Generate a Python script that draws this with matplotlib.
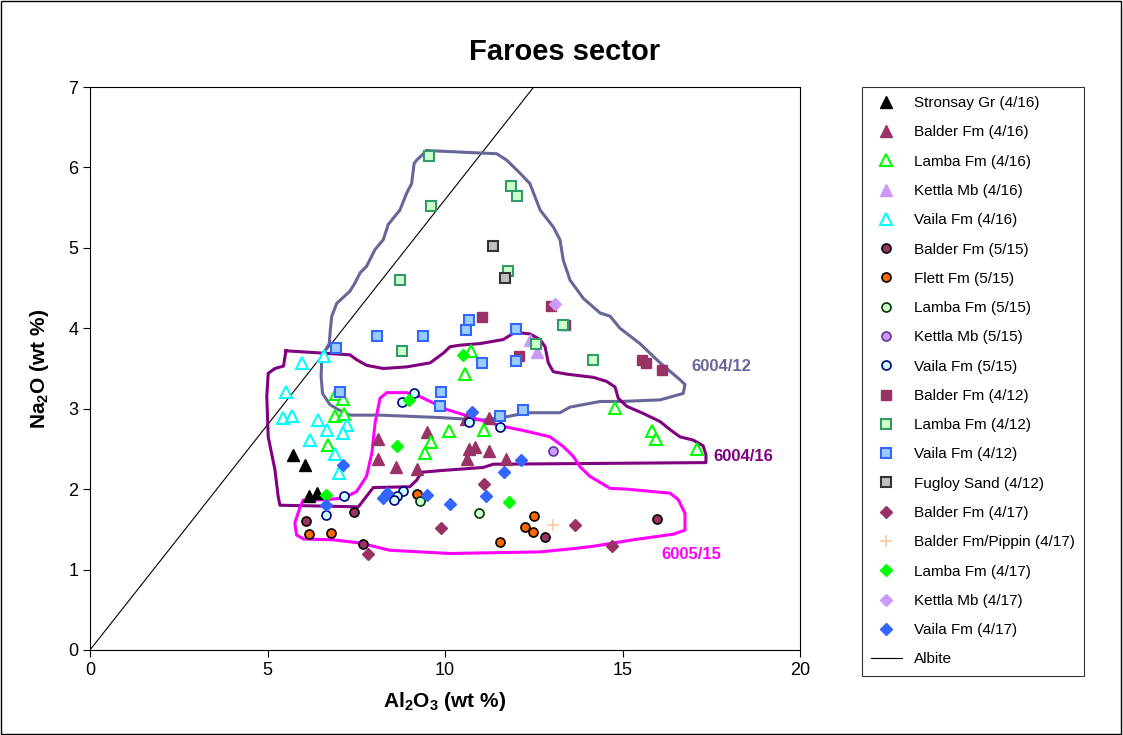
import matplotlib
matplotlib.use("Agg")
import matplotlib.pyplot as plt
from matplotlib.patches import Rectangle

plt.rcParams["font.family"] = ["Liberation Sans", "DejaVu Sans"]
plt.rcParams["mathtext.fontset"] = "custom"
plt.rcParams["mathtext.rm"] = "Liberation Sans:bold"
plt.rcParams["mathtext.default"] = "rm"

# Al2O3 (x) / Na2O (y) values, wt %
stronsay_416_x = [5.72, 6.07, 6.16, 6.40]
stronsay_416_y = [2.42, 2.30, 1.92, 1.95]

balder_416_x = [8.12, 8.10, 8.63, 9.22, 9.48, 10.60, 10.69, 10.85, 10.63, 11.24, 11.25, 11.71]
balder_416_y = [2.62, 2.38, 2.28, 2.25, 2.71, 2.87, 2.50, 2.52, 2.38, 2.47, 2.88, 2.37]

lamba_416_x = [6.93, 7.12, 6.90, 7.16, 6.71, 10.10, 9.60, 9.45, 10.72, 10.55, 11.10, 14.78, 15.84, 15.93, 17.09]
lamba_416_y = [3.18, 3.12, 2.91, 2.94, 2.55, 2.72, 2.58, 2.45, 3.72, 3.43, 2.74, 3.01, 2.72, 2.62, 2.50]

kettla_416_x = [12.39, 12.58]
kettla_416_y = [3.86, 3.71]

vaila_416_x = [5.98, 6.59, 5.51, 5.45, 5.68, 6.41, 6.67, 6.20, 7.23, 7.12, 6.90, 7.02]
vaila_416_y = [3.57, 3.66, 3.21, 2.89, 2.91, 2.86, 2.73, 2.61, 2.80, 2.70, 2.44, 2.20]

balder_515_x = [6.08, 7.44, 7.70, 12.82, 15.98]
balder_515_y = [1.60, 1.71, 1.32, 1.41, 1.63]

flett_515_x = [6.17, 6.78, 9.20, 12.52, 12.26, 12.48, 11.56]
flett_515_y = [1.44, 1.46, 1.94, 1.67, 1.53, 1.47, 1.34]

lamba_515_x = [9.30, 10.96]
lamba_515_y = [1.85, 1.70]

kettla_515_x = [13.04]
kettla_515_y = [2.47]

vaila_515_x = [9.14, 8.78, 10.69, 11.55, 7.16, 8.83, 8.66, 8.56, 6.65]
vaila_515_y = [3.19, 3.08, 2.83, 2.77, 1.92, 1.98, 1.92, 1.86, 1.68]

balder_412_x = [11.03, 12.08, 12.98, 13.38, 15.54, 15.65, 16.12]
balder_412_y = [4.14, 3.65, 4.28, 4.04, 3.60, 3.57, 3.48]

lamba_412_x = [9.56, 11.86, 12.03, 9.61, 8.73, 11.77, 13.33, 12.56, 14.16, 8.78]
lamba_412_y = [6.14, 5.77, 5.65, 5.52, 4.60, 4.71, 4.04, 3.81, 3.60, 3.72]

vaila_412_x = [8.08, 9.39, 10.69, 10.60, 12.00, 11.03, 12.00, 12.21, 11.55, 9.90, 9.85, 6.92, 7.04]
vaila_412_y = [3.91, 3.90, 4.10, 3.98, 3.99, 3.57, 3.59, 2.99, 2.91, 3.21, 3.03, 3.75, 3.21]

fugloy_412_x = [11.34, 11.69]
fugloy_412_y = [5.02, 4.62]

balder_417_x = [9.88, 7.84, 11.11, 13.66, 14.71]
balder_417_y = [1.52, 1.19, 2.06, 1.55, 1.29]

pippin_417_x = [13.05]
pippin_417_y = [1.55]

lamba_417_x = [8.99, 8.64, 6.65, 11.80, 10.50]
lamba_417_y = [3.11, 2.54, 1.93, 1.84, 3.67]

kettla_417_x = [13.10]
kettla_417_y = [4.30]

vaila_417_x = [7.12, 6.65, 8.36, 8.24, 9.48, 10.14, 10.75, 12.14, 11.67, 11.15]
vaila_417_y = [2.30, 1.80, 1.95, 1.89, 1.93, 1.82, 2.96, 2.36, 2.21, 1.91]

albite_x = [0, 12.5]
albite_y = [0, 7.0]

# field outlines
field_6004_12_x = [9.49, 11.46, 11.74, 12.11, 12.39, 12.68, 13.05, 13.24, 13.33, 13.52, 13.90, 14.37,
                   14.65, 14.93, 15.49, 16.06, 16.62, 16.76, 16.71, 16.06, 14.93, 14.37, 13.52, 13.24,
                   12.30, 11.74, 11.08, 10.61, 9.86, 8.17, 7.32, 6.99, 6.76, 6.55, 6.51, 6.53, 6.74,
                   6.77, 6.81, 6.95, 7.32, 7.46, 7.61, 7.79, 8.03, 8.26, 8.40, 8.73, 8.92, 9.06, 9.13,
                   9.20, 9.49]
field_6004_12_y = [6.21, 6.17, 6.09, 5.93, 5.80, 5.47, 5.26, 5.10, 4.85, 4.60, 4.37, 4.19,
                   4.15, 4.00, 3.81, 3.57, 3.36, 3.30, 3.19, 3.11, 3.09, 3.09, 3.02, 2.95,
                   2.95, 2.90, 2.86, 2.87, 2.89, 2.92, 2.92, 2.99, 3.05, 3.19, 3.40, 3.65, 3.81,
                   3.98, 4.15, 4.31, 4.46, 4.56, 4.69, 4.77, 4.98, 5.10, 5.29, 5.47, 5.68, 5.80, 6.05,
                   6.09, 6.21]

field_6004_16_x = [5.52, 7.32, 7.51, 7.79, 8.26, 8.92, 9.58, 9.95, 10.14, 10.42, 10.99, 11.64, 11.97,
                   12.39, 12.68, 12.82, 12.91, 13.05, 13.43, 14.18, 14.55, 14.79, 14.88, 15.12, 15.59,
                   16.06, 16.34, 16.62, 16.99, 17.27, 17.35, 17.35, 14.37, 11.36, 11.08, 9.86, 9.34,
                   9.20, 9.01, 7.98, 7.56, 5.35, 5.30, 5.21, 5.02, 4.98, 5.02, 5.21, 5.45, 5.52]
field_6004_16_y = [3.72, 3.67, 3.61, 3.54, 3.50, 3.52, 3.57, 3.69, 3.77, 3.79, 3.81, 3.86, 3.95,
                   3.93, 3.86, 3.77, 3.57, 3.46, 3.43, 3.39, 3.34, 3.27, 3.13, 3.03, 2.94,
                   2.84, 2.74, 2.65, 2.61, 2.54, 2.43, 2.33, 2.32, 2.31, 2.27, 2.23, 2.21,
                   2.11, 2.03, 2.02, 1.78, 1.80, 1.91, 2.24, 2.65, 3.15, 3.44, 3.50, 3.53, 3.72]

field_6005_15_x = [6.01, 6.67, 7.14, 7.51, 7.79, 7.94, 8.03, 8.17, 8.36, 8.92, 9.30, 9.58, 10.05,
                   10.42, 10.99, 11.64, 12.30, 12.96, 13.33, 13.61, 13.80, 14.08, 14.65, 15.12,
                   16.34, 16.57, 16.76, 16.76, 16.43, 15.30, 14.74, 14.18, 13.61, 12.68, 10.14,
                   8.45, 8.26, 7.61, 6.85, 6.01, 5.82, 5.77, 5.92, 6.01]
field_6005_15_y = [1.86, 1.87, 1.89, 1.97, 2.16, 2.45, 2.82, 3.13, 3.20, 3.20, 3.15, 3.09, 2.99,
                   2.94, 2.86, 2.78, 2.72, 2.65, 2.53, 2.41, 2.28, 2.16, 2.01, 2.00,
                   1.95, 1.87, 1.70, 1.49, 1.44, 1.37, 1.33, 1.29, 1.26, 1.22, 1.20,
                   1.24, 1.26, 1.33, 1.37, 1.38, 1.43, 1.58, 1.78, 1.86]

MAROON = "#993366"
LAV = "#cc99ff"

fig = plt.figure(figsize=(11.23, 7.35), dpi=100)
ax = fig.add_axes([90 / 1123, 1 - 650 / 735, 710 / 1123, 563 / 735])

# outlines first so markers sit on top
ax.plot(field_6004_12_x, field_6004_12_y, color="#666699", lw=2.2, zorder=2)
ax.plot(field_6004_16_x, field_6004_16_y, color="#800080", lw=2.2, zorder=2)
ax.plot(field_6005_15_x, field_6005_15_y, color="#ff00ff", lw=2.2, zorder=2)

series = [
    (stronsay_416_x, stronsay_416_y, "Stronsay Gr (4/16)", dict(marker="^", ms=8, mfc="black", mec="black")),
    (balder_416_x, balder_416_y, "Balder Fm (4/16)", dict(marker="^", ms=8, mfc=MAROON, mec=MAROON)),
    (lamba_416_x, lamba_416_y, "Lamba Fm (4/16)", dict(marker="^", ms=8, mfc="white", mec="#00ff00", mew=1.5)),
    (kettla_416_x, kettla_416_y, "Kettla Mb (4/16)", dict(marker="^", ms=8, mfc=LAV, mec=LAV)),
    (vaila_416_x, vaila_416_y, "Vaila Fm (4/16)", dict(marker="^", ms=8, mfc="white", mec="#00ffff", mew=1.5)),
    (balder_515_x, balder_515_y, "Balder Fm (5/15)", dict(marker="o", ms=6.5, mfc=MAROON, mec="black", mew=1.2)),
    (flett_515_x, flett_515_y, "Flett Fm (5/15)", dict(marker="o", ms=6.5, mfc="#ff6600", mec="black", mew=1.2)),
    (lamba_515_x, lamba_515_y, "Lamba Fm (5/15)", dict(marker="o", ms=6.5, mfc="#ccffcc", mec="#003300", mew=1.2)),
    (kettla_515_x, kettla_515_y, "Kettla Mb (5/15)", dict(marker="o", ms=6.5, mfc=LAV, mec="#663399", mew=1.2)),
    (vaila_515_x, vaila_515_y, "Vaila Fm (5/15)", dict(marker="o", ms=6.5, mfc="#ccffff", mec="#000080", mew=1.2)),
    (balder_412_x, balder_412_y, "Balder Fm (4/12)", dict(marker="s", ms=6.5, mfc=MAROON, mec=MAROON)),
    (lamba_412_x, lamba_412_y, "Lamba Fm (4/12)", dict(marker="s", ms=6.5, mfc="#ccffcc", mec="#339966", mew=1.5)),
    (vaila_412_x, vaila_412_y, "Vaila Fm (4/12)", dict(marker="s", ms=6.5, mfc="#99ccff", mec="#3366ff", mew=1.5)),
    (fugloy_412_x, fugloy_412_y, "Fugloy Sand (4/12)", dict(marker="s", ms=6.5, mfc="#c0c0c0", mec="#333333", mew=1.5)),
    (balder_417_x, balder_417_y, "Balder Fm (4/17)", dict(marker="D", ms=6, mfc=MAROON, mec=MAROON)),
    (pippin_417_x, pippin_417_y, "Balder Fm/Pippin (4/17)", dict(marker="+", ms=9, mfc="#ffcc99", mec="#ffcc99", mew=1.2)),
    (lamba_417_x, lamba_417_y, "Lamba Fm (4/17)", dict(marker="D", ms=6, mfc="#00ff00", mec="#00ff00")),
    (kettla_417_x, kettla_417_y, "Kettla Mb (4/17)", dict(marker="D", ms=6, mfc=LAV, mec=LAV)),
    (vaila_417_x, vaila_417_y, "Vaila Fm (4/17)", dict(marker="D", ms=6, mfc="#3366ff", mec="#3366ff")),
]

for xs, ys, label, style in series:
    ax.plot(xs, ys, ls="none", label=label, zorder=3, **style)

ax.plot(albite_x, albite_y, color="black", lw=0.8, label="Albite", zorder=1)

ax.text(16.95, 3.52, "6004/12", color="#666699", fontsize=12, fontweight="bold", va="center")
ax.text(17.55, 2.40, "6004/16", color="#800080", fontsize=12, fontweight="bold", va="center")
ax.text(16.10, 1.19, "6005/15", color="#ff00ff", fontsize=12, fontweight="bold", va="center")

ax.set_xlim(0, 20)
ax.set_ylim(0, 7)
ax.set_xticks([0, 5, 10, 15, 20])
ax.set_yticks(range(0, 8))
ax.tick_params(labelsize=13, direction="out", length=5, width=0.8)
for sp in ax.spines.values():
    sp.set_linewidth(0.8)

ax.set_xlabel("Al$_2$O$_3$ (wt %)", fontsize=15, fontweight="bold", labelpad=8)
ax.set_ylabel("Na$_2$O (wt %)", fontsize=15, fontweight="bold", labelpad=12)

fig.text(565 / 1123, 1 - 52 / 735, "Faroes sector", fontsize=21, fontweight="bold",
         ha="center", va="center")

leg = fig.legend(loc="upper left", bbox_to_anchor=(862 / 1123, 1 - 87 / 735),
                 fontsize=11, frameon=True, fancybox=False, edgecolor="black",
                 labelspacing=1.0, handlelength=2.0, borderpad=0.6, handletextpad=0.8,
                 borderaxespad=0)
leg.get_frame().set_linewidth(0.8)

fig.patches.append(Rectangle((0.001, 0.001), 0.997, 0.997, transform=fig.transFigure,
                             fill=False, edgecolor="black", lw=1))

fig.savefig("out.png", dpi=100)
